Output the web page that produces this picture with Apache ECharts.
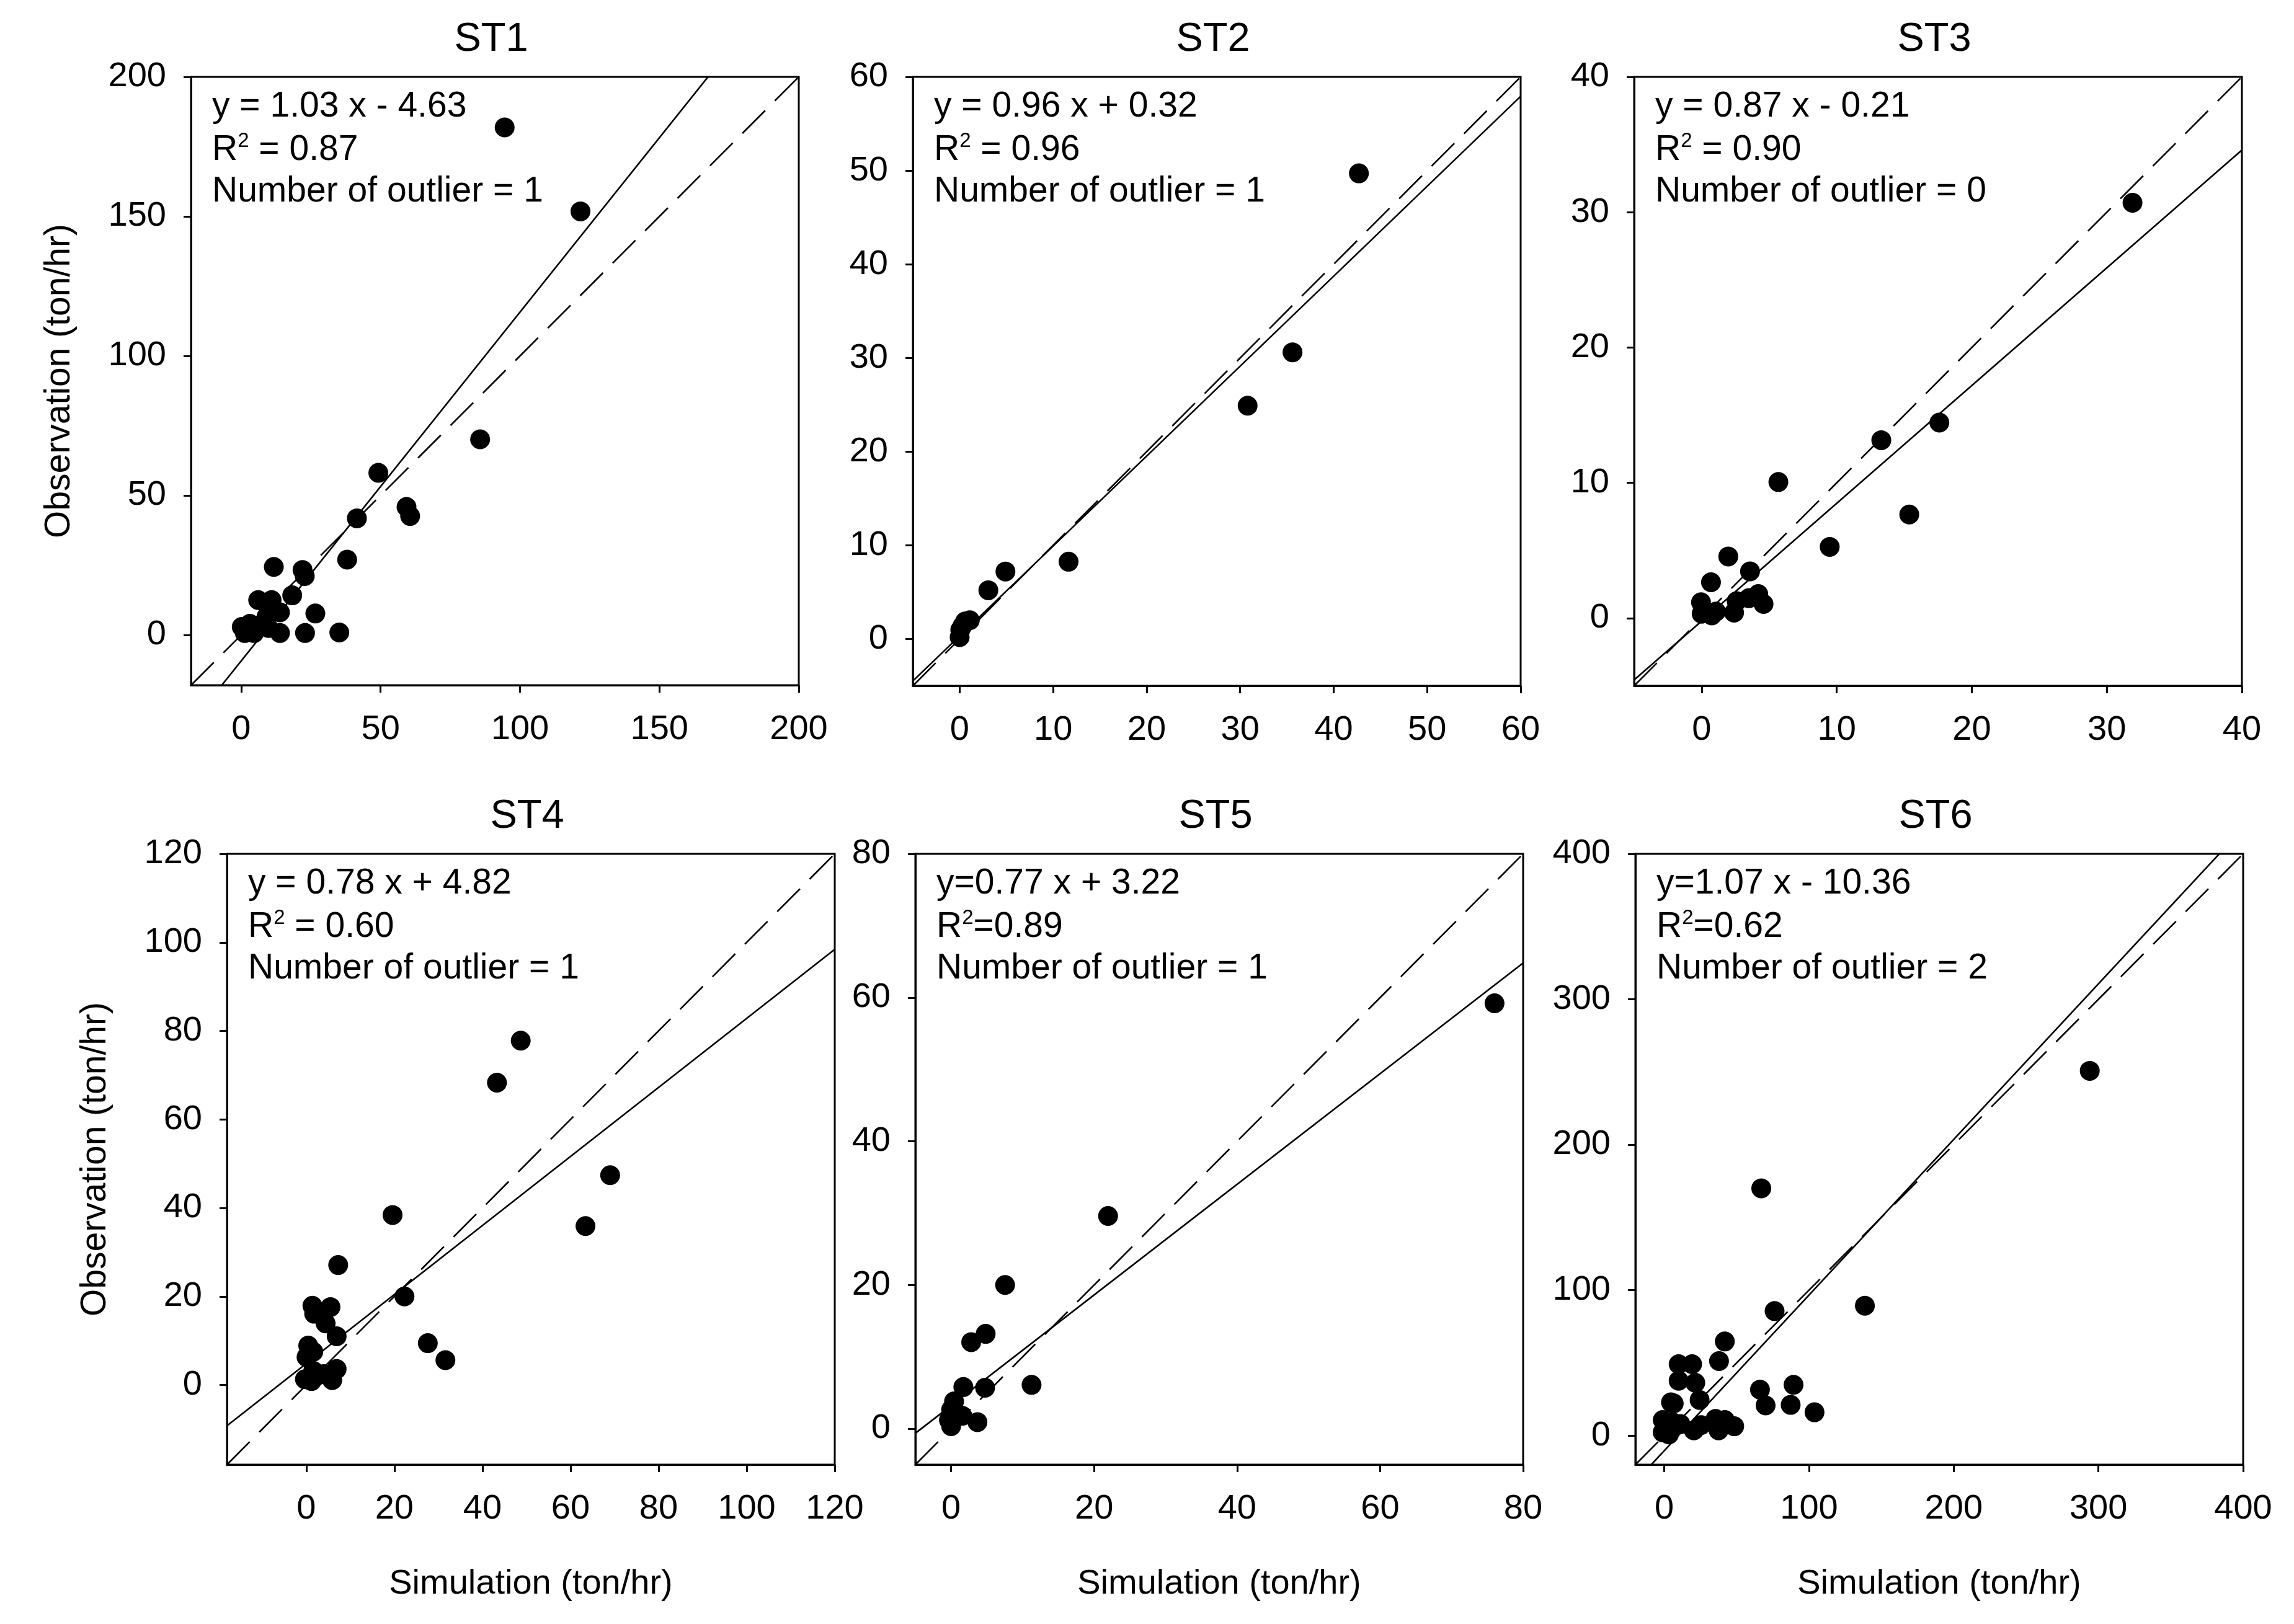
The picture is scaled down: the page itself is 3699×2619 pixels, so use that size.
<!DOCTYPE html>
<html>
<head>
<meta charset="utf-8">
<script src="https://cdn.jsdelivr.net/npm/echarts@6/dist/echarts.min.js"></script>
<style>
html,body{margin:0;padding:0;background:#fff;}
#chart{width:3699px;height:2619px;}
</style>
</head>
<body>
<div id="chart"></div>
<script>
// ---------------- data ----------------
const panelNames = ['ST1', 'ST2', 'ST3', 'ST4', 'ST5', 'ST6'];
const axisMin = [-18, -5, -5, -18, -5, -20];
const axisMax = [200, 60, 40, 120, 80, 400];
const tickValues = [
  [0, 50, 100, 150, 200],
  [0, 10, 20, 30, 40, 50, 60],
  [0, 10, 20, 30, 40],
  [0, 20, 40, 60, 80, 100, 120],
  [0, 20, 40, 60, 80],
  [0, 100, 200, 300, 400]
];
// drawn regression lines [slope, intercept]
const fitLines = [[1.25, -9.3], [0.96, 0.32], [0.87, -0.21], [0.78, 4.82], [0.77, 3.22], [1.07, -10.36]];
const eqTexts = ['y = 1.03 x - 4.63', 'y = 0.96 x + 0.32', 'y = 0.87 x - 0.21', 'y = 0.78 x + 4.82', 'y=0.77 x + 3.22', 'y=1.07 x - 10.36'];
const r2Texts = [' = 0.87', ' = 0.96', ' = 0.90', ' = 0.60', '=0.89', '=0.62'];
const outlierTexts = ['Number of outlier = 1', 'Number of outlier = 1', 'Number of outlier = 0', 'Number of outlier = 1', 'Number of outlier = 1', 'Number of outlier = 2'];
const xAxisNames = ['', '', '', 'Simulation (ton/hr)', 'Simulation (ton/hr)', 'Simulation (ton/hr)'];
const yAxisNames = ['Observation (ton/hr)', '', '', 'Observation (ton/hr)', '', ''];

// [simulation, observation]
const st1Points = [[94.5,181.9],[121.7,151.8],[85.7,70.1],[49.2,58.1],[59.3,45.9],[60.6,42.6],[41.5,41.8],[38.0,27.0],[11.7,24.4],[22.0,23.3],[22.8,21.1],[18.3,14.2],[6.1,12.5],[10.9,12.5],[13.9,8.1],[26.6,7.7],[9.1,6.6],[3.1,4.0],[6.8,3.6],[1.3,0.7],[4.6,0.7],[13.9,0.7],[22.9,0.7],[35.2,0.9],[9.8,2.5],[0.2,2.9]];
const st2Points = [[42.7,49.7],[35.6,30.6],[30.8,24.9],[11.65,8.25],[4.9,7.2],[3.07,5.2],[1.09,2.0],[0.58,1.86],[0.3,1.4],[0.07,0.97],[0,0.2]];
const st3Points = [[31.9,30.7],[17.6,14.45],[13.3,13.15],[5.68,10.06],[15.37,7.66],[9.48,5.27],[1.97,4.56],[3.58,3.46],[0.69,2.65],[4.19,1.78],[3.5,1.48],[4.58,1.05],[2.59,1.25],[2.4,0.41],[-0.05,1.17],[0,0.33],[1.06,0.49],[0.75,0.2]];
const st4Points = [[48.7,77.8],[43.3,68.3],[69.0,47.4],[19.6,38.4],[63.4,35.9],[7.25,27.1],[22.3,20.0],[1.4,17.9],[5.5,17.6],[1.8,16.1],[4.4,13.9],[6.9,11.0],[27.6,9.45],[31.6,5.6],[0.45,8.9],[0.06,6.3],[1.6,7.5],[6.9,3.6],[5.9,1.1],[-0.3,1.3],[1.2,0.9],[4.0,2.45],[1.6,3.2],[2.0,1.8]];
const st5Points = [[76.0,59.2],[21.95,29.6],[7.55,20.0],[4.83,13.2],[2.81,12.05],[11.25,6.1],[4.75,5.7],[1.71,5.8],[0.41,3.8],[0,2.65],[0,0.35],[1.57,1.8],[3.68,0.92],[-0.3,1.2]];
const st6Points = [[294.0,250.8],[67.0,170.0],[138.6,89.3],[76.2,85.6],[41.8,64.7],[37.8,51.2],[9.9,49.1],[19.2,49.1],[9.9,37.7],[21.4,36.3],[66.1,31.6],[89.3,34.9],[24.4,24.5],[70.0,20.7],[87.3,21.1],[103.8,16.0],[6.5,22.1],[4.6,22.8],[-1.1,10.7],[-1.1,2.2],[5.4,9.3],[11.1,7.9],[20.4,3.6],[25.4,7.2],[35.4,11.4],[37.5,3.6],[41.8,10.7],[48.3,6.4],[3.2,0.8]];
const allPoints = [st1Points, st2Points, st3Points, st4Points, st5Points, st6Points];

// ---------------- layout ----------------
const FONT = '"Liberation Sans", Arial, Helvetica, sans-serif';
const grids = [
  {left: 308, top: 124, width: 980, height: 981},
  {left: 1472, top: 124, width: 980, height: 982},
  {left: 2635, top: 124, width: 980, height: 982},
  {left: 366, top: 1377, width: 980, height: 985},
  {left: 1476, top: 1377, width: 980, height: 985},
  {left: 2637, top: 1377, width: 980, height: 985}
];

const chart = echarts.init(document.getElementById('chart'), null, {renderer: 'canvas', width: 3699, height: 2619});

const black = '#000';
const option = {
  backgroundColor: '#fff',
  animation: false,
  grid: grids.map(g => Object.assign({}, g, {show: true, borderColor: black, borderWidth: 3, backgroundColor: 'transparent', containLabel: false})),
  xAxis: panelNames.map((n, i) => ({
    type: 'value', gridIndex: i, min: axisMin[i], max: axisMax[i],
    axisLine: {show: true, onZero: false, lineStyle: {color: black, width: 3}},
    axisTick: {show: true, inside: false, length: 12, lineStyle: {color: black, width: 3}, customValues: tickValues[i]},
    axisLabel: {show: true, customValues: tickValues[i], color: black, fontSize: 56, fontFamily: FONT, margin: 44},
    splitLine: {show: false},
    name: xAxisNames[i], nameLocation: 'middle', nameGap: 165,
    nameTextStyle: {color: black, fontSize: 56, fontFamily: FONT}
  })),
  yAxis: panelNames.map((n, i) => ({
    type: 'value', gridIndex: i, min: axisMin[i], max: axisMax[i],
    axisLine: {show: true, onZero: false, lineStyle: {color: black, width: 3}},
    axisTick: {show: true, inside: false, length: 12, lineStyle: {color: black, width: 3}, customValues: tickValues[i]},
    axisLabel: {show: true, customValues: tickValues[i], color: black, fontSize: 56, fontFamily: FONT, margin: 40},
    splitLine: {show: false},
    name: yAxisNames[i], nameLocation: 'middle', nameGap: 183, nameRotate: 90,
    nameTextStyle: {color: black, fontSize: 57, fontFamily: FONT}
  })),
  series: [],
  graphic: []
};

panelNames.forEach((n, i) => {
  const lo = axisMin[i], hi = axisMax[i];
  const [a, b] = fitLines[i];
  option.series.push({
    type: 'line', xAxisIndex: i, yAxisIndex: i, data: [[lo, lo], [hi, hi]],
    symbol: 'none', clip: true, silent: true, z: 3,
    lineStyle: {color: black, width: 2.6, type: [52, 22], opacity: 1}
  });
  option.series.push({
    type: 'line', xAxisIndex: i, yAxisIndex: i, data: [[lo, a * lo + b], [hi, a * hi + b]],
    symbol: 'none', clip: true, silent: true, z: 3,
    lineStyle: {color: black, width: 2.6, type: 'solid', opacity: 1}
  });
  option.series.push({
    type: 'scatter', xAxisIndex: i, yAxisIndex: i, data: allPoints[i],
    symbol: 'circle', symbolSize: 32, silent: true, z: 4,
    itemStyle: {color: black, borderWidth: 0, opacity: 1},
    emphasis: {disabled: true}
  });

  const g = grids[i];
  option.graphic.push({
    type: 'text', x: g.left + g.width / 2 - 6, y: g.top - 60, silent: true,
    style: {text: n, fontSize: 65, fontFamily: FONT, fill: black, align: 'center', verticalAlign: 'middle'}
  });
  const tx = g.left + 34;
  option.graphic.push({
    type: 'text', x: tx, y: g.top + 48, silent: true,
    style: {text: eqTexts[i], fontSize: 57, fontFamily: FONT, fill: black, align: 'left', verticalAlign: 'middle'}
  });
  option.graphic.push({
    type: 'text', x: tx, y: g.top + 118, silent: true,
    style: {
      text: '{m|R}{s|2}{m|' + r2Texts[i] + '}',
      align: 'left', verticalAlign: 'middle',
      rich: {
        m: {fontSize: 57, fontFamily: FONT, fill: black, color: black, lineHeight: 62},
        s: {fontSize: 33, fontFamily: FONT, fill: black, color: black, lineHeight: 30, verticalAlign: 'top'}
      }
    }
  });
  option.graphic.push({
    type: 'text', x: tx, y: g.top + 185, silent: true,
    style: {text: outlierTexts[i], fontSize: 57, fontFamily: FONT, fill: black, align: 'left', verticalAlign: 'middle'}
  });
});

chart.setOption(option);
</script>
</body>
</html>
